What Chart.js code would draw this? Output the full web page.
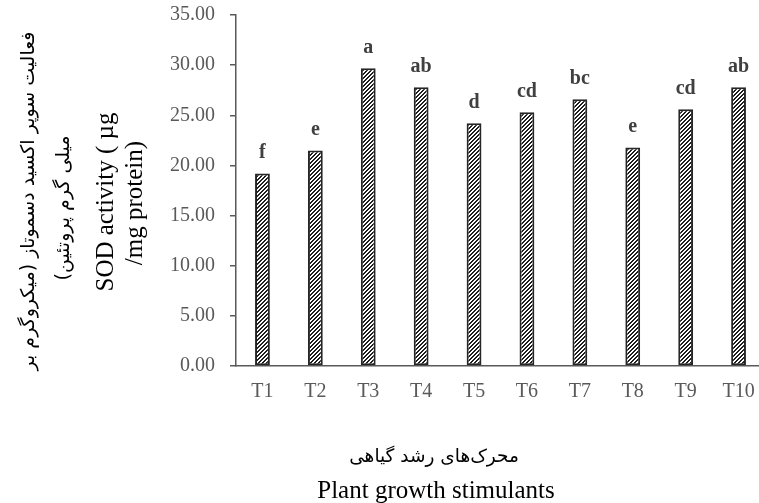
<!DOCTYPE html>
<html>
<head>
<meta charset="utf-8">
<script src="https://cdn.jsdelivr.net/npm/chart.js@4"></script>
<style>
  html, body { margin: 0; padding: 0; background: #fff; overflow: hidden; }
  #wrap { width: 770px; height: 503px; }
</style>
</head>
<body>
<div id="wrap"><canvas id="sodChart" width="770" height="503"></canvas></div>
<script>
// Data
const categories = ['T1', 'T2', 'T3', 'T4', 'T5', 'T6', 'T7', 'T8', 'T9', 'T10'];
const sodValues = [19.2, 21.5, 29.7, 27.8, 24.2, 25.3, 26.6, 21.8, 25.6, 27.8];
const groupLetters = ['f', 'e', 'a', 'ab', 'd', 'cd', 'bc', 'e', 'cd', 'ab'];
const yTitleLines = ['فعالیت سوپر اکسید دسموتاز (میکروگرم بر', 'میلی گرم پروتئین)', 'SOD activity ( µg', '/mg protein)'];
const xTitleLines = ['محرک‌های رشد گیاهی', 'Plant growth stimulants'];

const SERIF = '"Liberation Serif", "Times New Roman", serif';
const PERSIAN = '"DejaVu Sans", sans-serif';

// diagonal hatch fill
function makeHatch() {
  const c = document.createElement('canvas');
  c.width = 4; c.height = 4;
  const g = c.getContext('2d');
  g.fillStyle = '#ffffff';
  g.fillRect(0, 0, 4, 4);
  g.fillStyle = '#1e1e1e';
  for (let x = 0; x < 4; x++) {
    for (let y = 0; y < 4; y++) {
      if ((x + y) % 4 < 2) g.fillRect(x, y, 1, 1);
    }
  }
  return g.createPattern(c, 'repeat');
}

// letters above the bars
const letterLabels = {
  id: 'letterLabels',
  afterDatasetsDraw(chart) {
    const ctx = chart.ctx;
    const meta = chart.getDatasetMeta(0);
    ctx.save();
    ctx.font = 'bold 20px ' + SERIF;
    ctx.fillStyle = '#404040';
    ctx.textAlign = 'center';
    ctx.textBaseline = 'alphabetic';
    meta.data.forEach((bar, i) => {
      ctx.fillText(groupLetters[i], bar.x, bar.y - 15);
    });
    ctx.restore();
  }
};

// axis titles (mixed fonts, drawn by hand)
const axisTitles = {
  id: 'axisTitles',
  afterDraw(chart) {
    const ctx = chart.ctx;
    ctx.save();
    ctx.fillStyle = '#000';
    ctx.textAlign = 'center';
    ctx.textBaseline = 'middle';

    const yLines = [
      { x: 29, y: 201, font: '19px ' + PERSIAN, rtl: true },
      { x: 64, y: 208, font: '19px ' + PERSIAN, rtl: true },
      { x: 106, y: 202, font: '25px ' + SERIF, rtl: false },
      { x: 135, y: 203, font: '25px ' + SERIF, rtl: false }
    ];
    yLines.forEach((l, i) => {
      ctx.save();
      ctx.translate(l.x, l.y);
      ctx.rotate(-Math.PI / 2);
      ctx.font = l.font;
      ctx.direction = l.rtl ? 'rtl' : 'ltr';
      ctx.fillText(yTitleLines[i], 0, 0);
      ctx.restore();
    });

    ctx.direction = 'rtl';
    ctx.font = '18.5px ' + PERSIAN;
    ctx.fillText(xTitleLines[0], 434, 457);
    ctx.direction = 'ltr';
    ctx.font = '25px ' + SERIF;
    ctx.fillText(xTitleLines[1], 436, 491);
    ctx.restore();
  }
};

function drawChart(ctxId) {
  const el = document.getElementById(ctxId);
  if (!el) return;
  const hatch = makeHatch();

  new Chart(el, {
    type: 'bar',
    data: {
      labels: categories,
      datasets: [{
        data: sodValues,
        backgroundColor: hatch,
        borderColor: '#262626',
        borderWidth: 2,
        borderSkipped: false,
        barPercentage: 0.28,
        categoryPercentage: 1
      }]
    },
    options: {
      responsive: false,
      animation: false,
      layout: { autoPadding: false, padding: { top: 15, right: 5, left: 0, bottom: 0 } },
      plugins: {
        legend: { display: false },
        tooltip: { enabled: false }
      },
      scales: {
        x: {
          grid: { display: false, drawTicks: false },
          border: { display: true, color: '#595959', width: 1.5 },
          ticks: {
            color: '#595959',
            font: { family: SERIF, size: 20 },
            padding: 14,
            maxRotation: 0
          },
          afterFit(scale) { scale.height = 137; }
        },
        y: {
          min: 0,
          max: 35,
          grid: { drawOnChartArea: false, drawTicks: true, tickLength: 6, color: '#595959', lineWidth: 1.5 },
          border: { display: true, color: '#595959', width: 1.5 },
          ticks: {
            stepSize: 5,
            color: '#595959',
            font: { family: SERIF, size: 20 },
            padding: 15,
            callback: v => v.toFixed(2)
          },
          afterFit(scale) {
            scale.width = 236;
            scale.paddingTop = 0;
            scale.paddingBottom = 0;
          }
        }
      }
    },
    plugins: [letterLabels, axisTitles]
  });
}

document.addEventListener('DOMContentLoaded', () => {
  drawChart('sodChart');
});
</script>
</body>
</html>
